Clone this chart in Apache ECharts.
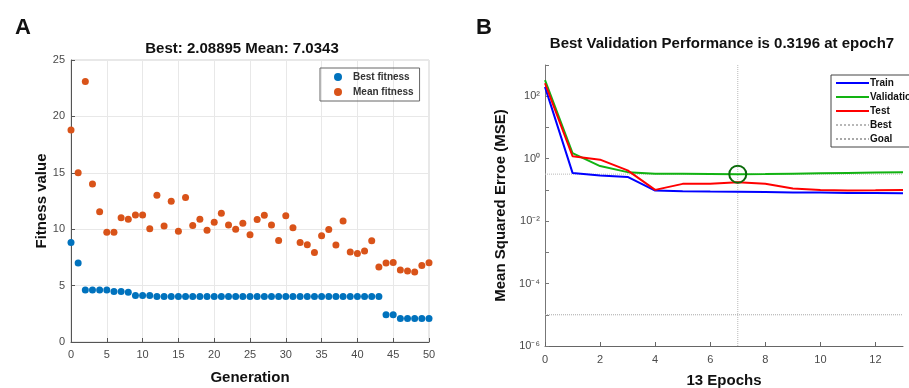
<!DOCTYPE html>
<html>
<head>
<meta charset="utf-8">
<script src="https://cdn.jsdelivr.net/npm/echarts@6.0.0/dist/echarts.min.js"></script>
<style>
  html, body { margin: 0; padding: 0; background: #fff; }
  #chart { width: 909px; height: 388px; }
</style>
</head>
<body>
<div id="chart"></div>
<script>
// Panel A - genetic algorithm fitness per generation
const generation = [0, 1, 2, 3, 4, 5, 6, 7, 8, 9, 10, 11, 12, 13, 14, 15, 16, 17, 18, 19, 20,
  21, 22, 23, 24, 25, 26, 27, 28, 29, 30, 31, 32, 33, 34, 35, 36, 37, 38, 39, 40,
  41, 42, 43, 44, 45, 46, 47, 48, 49, 50]
const bestFitness = [8.82, 7.0, 4.62, 4.62, 4.62, 4.62, 4.47, 4.47, 4.41, 4.12, 4.12, 4.12,
  4.03, 4.03, 4.03, 4.03, 4.03, 4.03, 4.03, 4.03, 4.03, 4.03, 4.03, 4.03, 4.03, 4.03,
  4.03, 4.03, 4.03, 4.03, 4.03, 4.03, 4.03, 4.03, 4.03, 4.03, 4.03, 4.03, 4.03, 4.03,
  4.03, 4.03, 4.03, 4.03, 2.41, 2.41, 2.09, 2.09, 2.09, 2.09, 2.08895]
const meanFitness = [18.8, 15.0, 23.1, 14.0, 11.55, 9.73, 9.73, 11.02, 10.88, 11.26, 11.26,
  10.03, 13.02, 10.29, 12.47, 9.82, 12.82, 10.32, 10.88, 9.91, 10.62, 11.41, 10.38, 10.0,
  10.53, 9.5, 10.85, 11.23, 10.38, 9.0, 11.2, 10.12, 8.82, 8.62, 7.94, 9.41, 9.97, 8.59,
  10.73, 7.97, 7.85, 8.06, 8.97, 6.65, 7.0, 7.05, 6.38, 6.29, 6.2, 6.79, 7.0343]

// Panel B - network training performance (MSE, log scale)
const epochs = [0, 1, 2, 3, 4, 5, 6, 7, 8, 9, 10, 11, 12, 13]
const trainMse = [200, 0.35, 0.29, 0.26, 0.095, 0.09, 0.088, 0.087, 0.085, 0.083, 0.082, 0.08, 0.079, 0.078]
const validationMse = [330, 1.5, 0.58, 0.37, 0.33, 0.33, 0.325, 0.3196, 0.32, 0.33, 0.34, 0.35, 0.36, 0.37]
const testMse = [260, 1.2, 0.93, 0.42, 0.1, 0.156, 0.158, 0.177, 0.156, 0.11, 0.1, 0.095, 0.097, 0.1]
const bestEpoch = 7
const bestPerf = 0.3196
const goalMse = 1e-5

const supers = { '-': '\u207b', '0': '\u2070', '1': '\u00b9', '2': '\u00b2', '3': '\u00b3',
  '4': '\u2074', '5': '\u2075', '6': '\u2076' }

const chart = echarts.init(document.getElementById('chart'))

const tickLabel = { color: '#4a4a4a', fontSize: 11, fontFamily: 'Liberation Sans' }
const axisName = { color: '#111', fontSize: 15, fontWeight: 'bold', fontFamily: 'Liberation Sans' }

const option = {
  animation: false,
  backgroundColor: '#fff',
  textStyle: { fontFamily: 'Liberation Sans' },
  title: [
    { text: 'A', left: 10, top: 12, textStyle: { fontSize: 22, fontWeight: 'bold', color: '#111' } },
    { text: 'B', left: 471, top: 12, textStyle: { fontSize: 22, fontWeight: 'bold', color: '#111' } },
    {
      text: 'Best: 2.08895 Mean: 7.0343', left: 237, top: 36, textAlign: 'center',
      textStyle: { fontSize: 15, fontWeight: 'bold', color: '#111' }
    },
    {
      text: 'Best Validation Performance is 0.3196 at epoch7', left: 717, top: 31, textAlign: 'center',
      textStyle: { fontSize: 15, fontWeight: 'bold', color: '#111' }
    }
  ],
  legend: [
    {
      data: ['Best fitness', 'Mean fitness'],
      orient: 'vertical', left: 320, top: 68,
      icon: 'circle', itemWidth: 8, itemHeight: 8, itemGap: 5,
      borderColor: '#666', borderWidth: 1, padding: [4, 6, 4, 14],
      textStyle: { fontSize: 10, fontWeight: 'bold', color: '#333', padding: [0, 0, 0, 6] }
    },
    {
      data: ['Train', 'Validation', 'Test', 'Best', 'Goal'],
      orient: 'vertical', left: 831, top: 75,
      itemWidth: 33, itemHeight: 10, itemGap: 4,
      itemStyle: { opacity: 0 },
      borderColor: '#444', borderWidth: 1, padding: [3, 4, 3, 4],
      textStyle: { fontSize: 10, fontWeight: 'bold', color: '#111', padding: [0, 0, 0, -4] }
    }
  ],
  grid: [
    { left: 71, right: 480, top: 60, bottom: 46, show: true, borderColor: '#d0d0d0', borderWidth: 1,
      outerBoundsMode: 'none' },
    { left: 545, right: 6, top: 65, bottom: 42, outerBoundsMode: 'none' }
  ],
  xAxis: [
    {
      gridIndex: 0, type: 'value', min: 0, max: 50, interval: 5,
      name: 'Generation', nameLocation: 'middle', nameGap: 28, nameTextStyle: axisName,
      axisLine: { lineStyle: { color: '#555' } },
      axisTick: { inside: true, length: 4, lineStyle: { color: '#555' } },
      axisLabel: Object.assign({ margin: 7 }, tickLabel),
      splitLine: { show: true, lineStyle: { color: '#e8e8e8' } }
    },
    {
      gridIndex: 1, type: 'value', min: 0, max: 13, interval: 2,
      name: '13 Epochs', nameLocation: 'middle', nameGap: 27, nameTextStyle: axisName,
      axisLine: { lineStyle: { color: '#666' } },
      axisTick: { inside: true, length: 4, lineStyle: { color: '#666' } },
      axisLabel: Object.assign({ margin: 8, showMaxLabel: false }, tickLabel),
      splitLine: { show: false }
    }
  ],
  yAxis: [
    {
      gridIndex: 0, type: 'value', min: 0, max: 25, interval: 5,
      name: 'Fitness value', nameLocation: 'middle', nameGap: 21, nameTextStyle: axisName,
      axisLine: { show: true, lineStyle: { color: '#555' } },
      axisTick: { show: true, inside: true, length: 4, lineStyle: { color: '#555' } },
      axisLabel: Object.assign({ margin: 6 }, tickLabel),
      splitLine: { show: true, lineStyle: { color: '#e8e8e8' } }
    },
    {
      gridIndex: 1, type: 'log', logBase: 10, min: 1e-6, max: 1e3,
      name: 'Mean Squared Erroe (MSE)', nameLocation: 'middle', nameGap: 37, nameTextStyle: axisName,
      axisLine: { show: true, lineStyle: { color: '#777' } },
      axisTick: { show: true, inside: true, length: 4, lineStyle: { color: '#777' } },
      axisLabel: Object.assign({}, tickLabel, {
        margin: 5,
        formatter: v => {
          const e = Math.round(Math.log10(v))
          if (e % 2 !== 0) return ''
          return '10' + String(e).split('').map(c => supers[c]).join('')
        }
      }),
      splitLine: { show: false }
    }
  ],
  series: [
    {
      name: 'Best fitness', type: 'scatter', xAxisIndex: 0, yAxisIndex: 0,
      symbolSize: 7, itemStyle: { color: '#0072BD', opacity: 1 },
      data: generation.map((g, i) => [g, bestFitness[i]])
    },
    {
      name: 'Mean fitness', type: 'scatter', xAxisIndex: 0, yAxisIndex: 0,
      symbolSize: 7, itemStyle: { color: '#D95319', opacity: 1 },
      data: generation.map((g, i) => [g, meanFitness[i]])
    },
    {
      name: 'Best', type: 'line', xAxisIndex: 1, yAxisIndex: 1, symbol: 'none',
      lineStyle: { color: '#b8b8b8', width: 1, type: 'dotted' },
      itemStyle: { color: '#b8b8b8' },
      data: [[epochs[0], bestPerf], [epochs[epochs.length - 1], bestPerf]]
    },
    {
      name: 'Best', type: 'line', xAxisIndex: 1, yAxisIndex: 1, symbol: 'none',
      lineStyle: { color: '#b8b8b8', width: 1, type: 'dotted' },
      itemStyle: { color: '#b8b8b8' },
      data: [[bestEpoch, 1e-6], [bestEpoch, 1e3]]
    },
    {
      name: 'Goal', type: 'line', xAxisIndex: 1, yAxisIndex: 1, symbol: 'none',
      lineStyle: { color: '#a8a8a8', width: 1, type: 'dotted' },
      itemStyle: { color: '#a8a8a8' },
      data: [[epochs[0], goalMse], [epochs[epochs.length - 1], goalMse]]
    },
    {
      name: 'Train', type: 'line', xAxisIndex: 1, yAxisIndex: 1, symbol: 'none', z: 4,
      lineStyle: { color: '#0000FF', width: 2 }, itemStyle: { color: '#0000FF' },
      data: epochs.map((e, i) => [e, trainMse[i]])
    },
    {
      name: 'Validation', type: 'line', xAxisIndex: 1, yAxisIndex: 1, symbol: 'none', z: 3,
      lineStyle: { color: '#12B312', width: 2 }, itemStyle: { color: '#12B312' },
      data: epochs.map((e, i) => [e, validationMse[i]])
    },
    {
      name: 'Test', type: 'line', xAxisIndex: 1, yAxisIndex: 1, symbol: 'none', z: 5,
      lineStyle: { color: '#FF0000', width: 2 }, itemStyle: { color: '#FF0000' },
      data: epochs.map((e, i) => [e, testMse[i]])
    },
    {
      name: 'bestMarker', type: 'scatter', xAxisIndex: 1, yAxisIndex: 1, z: 6,
      symbol: 'circle', symbolSize: 17,
      itemStyle: { color: 'rgba(0,0,0,0)', borderColor: '#0B6B0B', borderWidth: 2, opacity: 1 },
      data: [[bestEpoch, bestPerf]]
    }
  ]
}

chart.setOption(option)
</script>
</body>
</html>
